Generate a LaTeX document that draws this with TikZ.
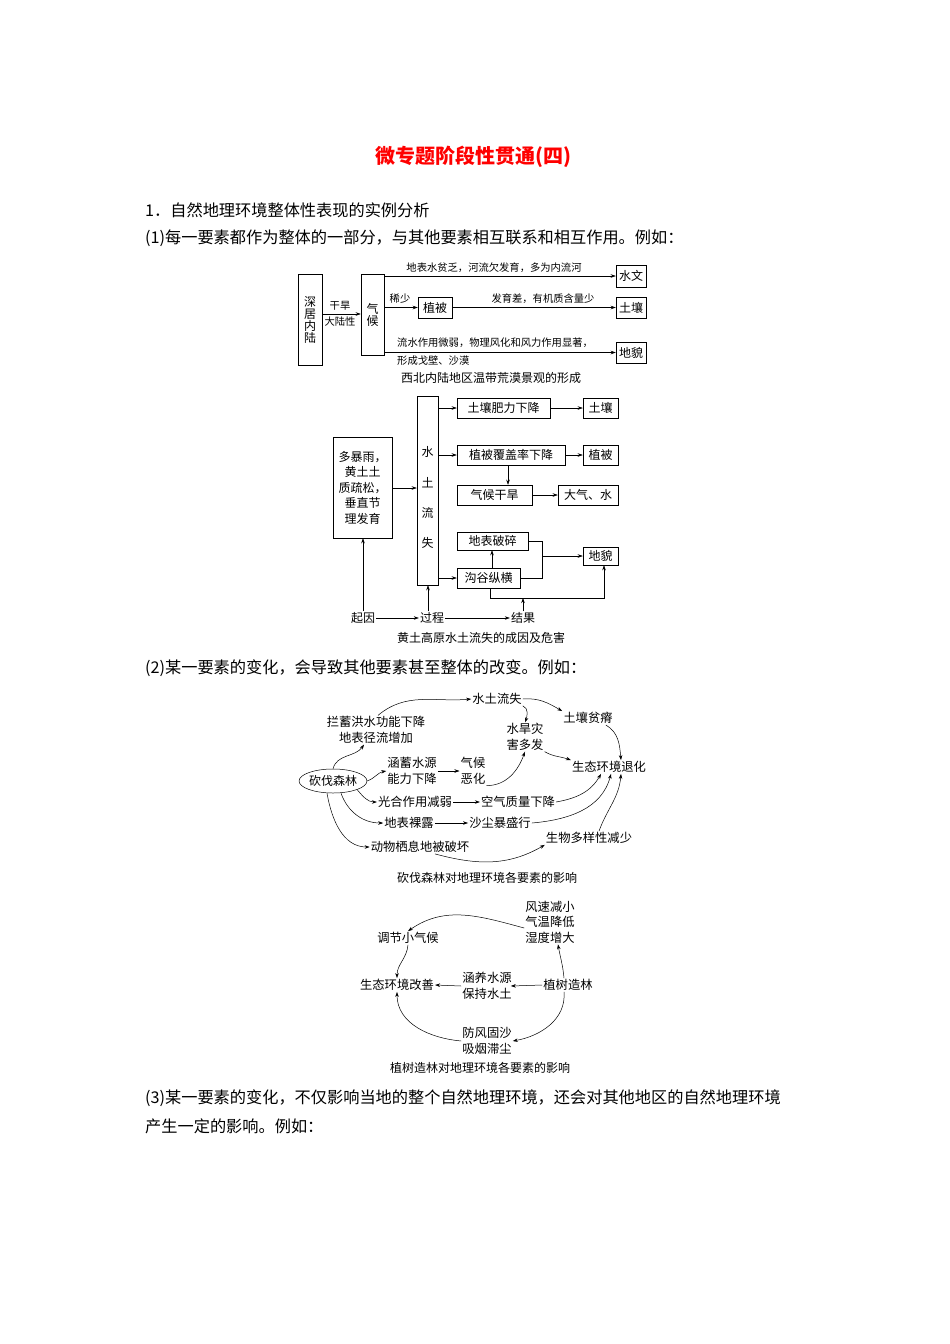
\documentclass[tikz,border=0pt]{standalone}
\usepackage{fontspec}
\setmainfont{Noto Sans CJK SC}
\usetikzlibrary{arrows.meta,shapes.geometric}
\begin{document}
\begin{tikzpicture}[x=1pt,y=-1pt,
  every node/.style={inner sep=1pt,font=\fontsize{12}{14}\selectfont},
  bx/.style={draw,line width=0.5pt,inner sep=0pt,font=\fontsize{12}{14}\selectfont},
  tx/.style={font=\fontsize{12.3}{15.5}\selectfont,align=center},
  sm/.style={font=\fontsize{10.3}{12}\selectfont},
  body/.style={font=\fontsize{16.2}{19}\selectfont,anchor=west,inner sep=0pt},
  captxt/.style={font=\fontsize{12}{14}\selectfont},
  ar/.style={-{Stealth[length=5pt,width=3.5pt]},line width=0.5pt},
  ln/.style={line width=0.5pt}]
\useasboundingbox (0,0) rectangle (950,1344);
\node[font=\bfseries\fontsize{20}{23}\selectfont,text=red] (title) at (473,157) {微专题阶段性贯通(四)};
\node[body] (l1) at (145,210) {1．自然地理环境整体性表现的实例分析};
\node[body] (l2) at (145,238) {(1)每一要素都作为整体的一部分，与其他要素相互联系和相互作用。例如：};
% ---- diagram 1
\node[bx,minimum width=24,minimum height=91,align=center] (shen) at (310,319.5) {深\\[-2pt]居\\[-2pt]内\\[-2pt]陆};
\node[bx,minimum width=23,minimum height=81,align=center] (qh) at (372.5,314.5) {气\\[-2pt]候};
\draw[ar] (shen.east|-0,314) -- (qh.west|-0,314);
\node[sm] (gh) at (340,306) {干旱};
\node[sm] (dlx) at (340,322) {大陆性};
\node[bx,minimum width=30,minimum height=22] (sw) at (631,276) {水文};
\node[bx,minimum width=34,minimum height=21] (zb) at (435,307.5) {植被};
\node[bx,minimum width=30,minimum height=21] (tr) at (631,307.5) {土壤};
\node[bx,minimum width=30,minimum height=21] (dm) at (631,352.5) {地貌};
\draw[ar] (qh.east|-sw) -- (sw);
\draw[ar] (qh.east|-zb) -- (zb);
\draw[ar] (zb) -- (tr);
\draw[ar] (qh.east|-dm) -- (dm);
\node[sm] (t1) at (494,268) {地表水贫乏，河流欠发育，多为内流河};
\node[sm] (t2) at (400,299) {稀少};
\node[sm] (t3) at (543,299) {发育差，有机质含量少};
\node[sm,anchor=west] (t4) at (396,343) {流水作用微弱，物理风化和风力作用显著，};
\node[sm,anchor=west] (t5) at (396,361) {形成戈壁、沙漠};
\node[captxt] (c1) at (491,378) {西北内陆地区温带荒漠景观的形成};
% ---- diagram 2
\node[bx,minimum width=59,minimum height=101,align=center,font=\fontsize{12}{15.5}\selectfont] (qy) at (362.5,487.5) {多暴雨，\\黄土土\\质疏松，\\垂直节\\理发育};
\node[bx,minimum width=21,minimum height=189] (stls) at (427.5,490.5) {};
\node (s1) at (427.5,452) {水};
\node (s2) at (427.5,483) {土};
\node (s3) at (427.5,513) {流};
\node (s4) at (427.5,543) {失};
\draw[ar] (qy.east|-0,488) -- (stls.west|-0,488);
\node[bx,minimum width=93,minimum height=20] (fl) at (503.5,408) {土壤肥力下降};
\node[bx,minimum width=35,minimum height=20] (tr2) at (600.5,408) {土壤};
\node[bx,minimum width=108,minimum height=20] (fg) at (511,455) {植被覆盖率下降};
\node[bx,minimum width=35,minimum height=20] (zb2) at (600.5,455) {植被};
\node[bx,minimum width=75,minimum height=20] (qhgh) at (494.5,495) {气候干旱};
\node[bx,minimum width=60,minimum height=20] (dqs) at (588,495) {大气、水};
\node[bx,minimum width=71,minimum height=18] (dbps) at (492.5,541) {地表破碎};
\node[bx,minimum width=63,minimum height=20] (ggzh) at (488.5,578) {沟谷纵横};
\node[bx,minimum width=35,minimum height=18] (dm2) at (600.5,556) {地貌};
\draw[ar] (stls.east|-fl) -- (fl);
\draw[ar] (fl) -- (tr2);
\draw[ar] (stls.east|-fg) -- (fg);
\draw[ar] (fg) -- (zb2);
\draw[ar] (fg.south-|508,0) -- (qhgh.north-|508,0);
\draw[ar] (qhgh) -- (dqs);
\draw[ar] (stls.east|-ggzh) -- (ggzh);
\draw[ar] (ggzh.north-|492,0) -- (dbps.south-|492,0);
\coordinate (j1) at (542,541);
\coordinate (j2) at (542,578);
\coordinate (j3) at (542,556);
\draw[ln] (dbps.east) -- (j1) -- (j2) -- (ggzh.east);
\draw[ar] (j3) -- (dm2.west|-j3);
\coordinate (b1) at (490,598);
\coordinate (b2) at (604,598);
\draw[ar] (ggzh.south-|b1) -- (b1) -- (b2) -- (dm2.south-|b2);
\node (qiy) at (363,618) {起因};
\node (gc) at (432,618) {过程};
\node (jg) at (523,618) {结果};
\draw[ar] (qiy.north) -- (qy.south-|qiy.north);
\draw[ar] (gc.north-|428,0) -- (stls.south-|428,0);
\draw[ar] (jg.north) -- (jg.north|-b1);
\draw[ar] (qiy) -- (gc);
\draw[ar] (gc) -- (jg);
\node[captxt] (c2) at (481,638) {黄土高原水土流失的成因及危害};
\node[body] (l3) at (145,668) {(2)某一要素的变化，会导致其他要素甚至整体的改变。例如：};
% ---- diagram 3
\node[draw,ellipse,line width=0.5pt,inner sep=0pt,minimum width=58,minimum height=24,font=\fontsize{12}{14}\selectfont] (kf) at (333,781) {砍伐森林};
\node[tx] (stls3) at (497,699) {水土流失};
\node[tx] (lx) at (376,730) {拦蓄洪水功能下降\\地表径流增加};
\node[tx] (shz) at (525,737) {水旱灾\\害多发};
\node[tx] (trpj) at (588,718) {土壤贫瘠};
\node[tx] (hx) at (412,771) {涵蓄水源\\能力下降};
\node[tx] (qheh) at (473,771) {气候\\恶化};
\node[tx] (sttu) at (609,767) {生态环境退化};
\node[tx] (gh3) at (415,802) {光合作用减弱};
\node[tx] (kq) at (518,802) {空气质量下降};
\node[tx] (dblu) at (409,823) {地表裸露};
\node[tx] (scb) at (500,823) {沙尘暴盛行};
\node[tx] (swdy) at (589,838) {生物多样性减少};
\node[tx] (dw) at (420,847) {动物栖息地被破坏};
\node[captxt] (c3) at (487,878) {砍伐森林对地理环境各要素的影响};
\draw[ar] (kf.north) to[out=75,in=235] ([xshift=-12]lx.south);
\draw[ar] ([xshift=2]lx.north) to[out=40,in=185] (stls3.west);
\draw[ar] (stls3.east) to[out=5,in=150] (trpj.north west);
\draw[ar] (stls3.south east) to[out=-20,in=70] (shz.north);
\draw[ar] ([xshift=-8]trpj.south east) to[out=-30,in=95] ([xshift=12]sttu.north);
\draw[ar] (shz.south east) to[out=-30,in=160] (sttu.north west);
\draw[ar] (kf.east) to[out=20,in=190] (hx.west);
\draw[ar] (hx.east) -- (qheh.west);
\draw[ar] (qheh.south east) to[out=0,in=250] (shz.south);
\draw[ar] (kf.south east) to[out=-50,in=180] (gh3.west);
\draw[ar] (gh3) -- (kq);
\draw[ar] (kq.east) to[out=10,in=240] ([xshift=-8]sttu.south);
\draw[ar] ([xshift=8]kf.south) to[out=-70,in=180] (dblu.west);
\draw[ar] (dblu) -- (scb);
\draw[ar] (scb.east) to[out=5,in=255] ([xshift=2]sttu.south);
\draw[ar] ([xshift=-6]kf.south) to[out=-80,in=180] (dw.west);
\draw[ar] ([xshift=15]dw.south) to[out=-15,in=210] (swdy.south west);
\draw[ar] ([xshift=10]swdy.north) to[out=70,in=265] ([xshift=12]sttu.south);
% ---- diagram 4
\node[tx] (fs) at (550,922) {风速减小\\气温降低\\湿度增大};
\node[tx] (tj) at (408,938) {调节小气候};
\node[tx] (stgs) at (397,985) {生态环境改善};
\node[tx] (hy) at (487,986) {涵养水源\\保持水土};
\node[tx] (zs) at (568,985) {植树造林};
\node[tx] (ff) at (487,1041) {防风固沙\\吸烟滞尘};
\node[captxt] (c4) at (480,1068) {植树造林对地理环境各要素的影响};
\draw[ar] (zs.west) -- ([xshift=-2]hy.east);
\draw[ar] (hy.west) -- (stgs.east);
\draw[ar] ([xshift=-4]zs.north) to[out=95,in=-80] ([xshift=8]fs.south);
\draw[ar] ([yshift=-6]fs.west) to[out=165,in=35] (tj.north);
\draw[ar] (tj.south) to[out=-95,in=90] (stgs.north);
\draw[ar] ([xshift=-4]zs.south) to[out=-85,in=10] (ff.east);
\draw[ar] (ff.west) to[out=175,in=-90] (stgs.south);
\node[body] (l4) at (145,1098) {(3)某一要素的变化，不仅影响当地的整个自然地理环境，还会对其他地区的自然地理环境};
\node[body] (l5) at (145,1126) {产生一定的影响。例如：};
\end{tikzpicture}
\end{document}
